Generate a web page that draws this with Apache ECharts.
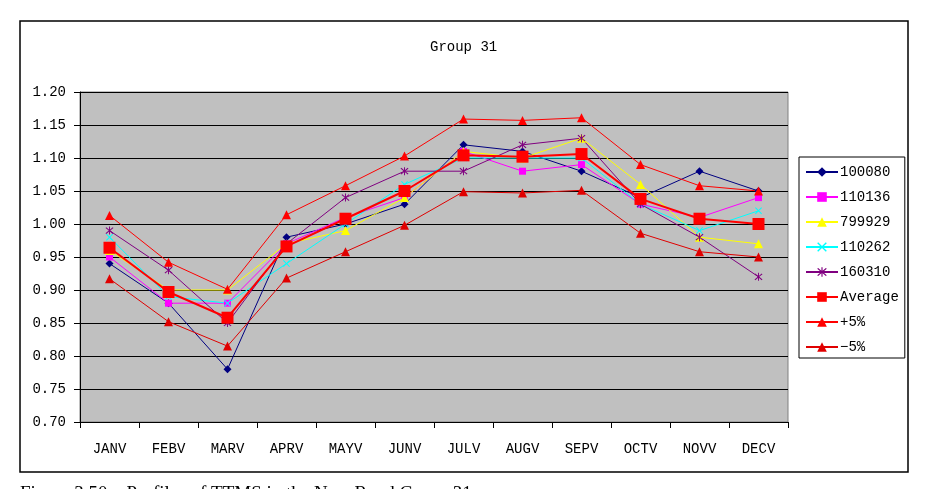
<!DOCTYPE html>
<html>
<head>
    <meta charset="utf-8">
    <title>Group 31</title>
    <script src="https://cdn.jsdelivr.net/npm/echarts@6/dist/echarts.min.js"></script>
    <style>
        html, body { margin: 0; padding: 0; background: #fff; }
    </style>
</head>

<body>
    <div id="main" style="width: 926px; height: 489px;"></div>

    <script type="text/javascript">

        // values
        const months = ['JANV', 'FEBV', 'MARV', 'APRV', 'MAYV', 'JUNV', 'JULV', 'AUGV', 'SEPV', 'OCTV', 'NOVV', 'DECV']
        const s100080 = [0.94, 0.88, 0.78, 0.98, 1.00, 1.03, 1.12, 1.11, 1.08, 1.04, 1.08, 1.05]
        const s110136 = [0.95, 0.88, 0.88, 0.97, 1.01, 1.04, 1.11, 1.08, 1.09, 1.03, 1.01, 1.04]
        const s799929 = [0.96, 0.90, 0.90, 0.97, 0.99, 1.04, 1.11, 1.10, 1.13, 1.06, 0.98, 0.97]
        const s110262 = [0.98, 0.89, 0.88, 0.94, 1.00, 1.06, 1.10, 1.10, 1.10, 1.03, 0.99, 1.02]
        const s160310 = [0.99, 0.93, 0.85, 0.97, 1.04, 1.08, 1.08, 1.12, 1.13, 1.03, 0.98, 0.92]
        const average = [0.964, 0.897, 0.858, 0.966, 1.008, 1.050, 1.104, 1.102, 1.106, 1.038, 1.008, 1.000]
        const plus5 = [1.013, 0.942, 0.901, 1.014, 1.058, 1.103, 1.159, 1.157, 1.161, 1.090, 1.058, 1.050]
        const minus5 = [0.917, 0.852, 0.815, 0.918, 0.958, 0.998, 1.049, 1.047, 1.051, 0.986, 0.958, 0.950]

        const font = 'Liberation Mono'
        const crossPath = 'path://M0,1L1,0L5,4L9,0L10,1L6,5L10,9L9,10L5,6L1,10L0,9L4,5Z'
        const starPath = 'path://M0,1L1,0L5,4L9,0L10,1L6,5L10,9L9,10L5,6L1,10L0,9L4,5Z M4.4,-1L5.6,-1L5.6,11L4.4,11Z'

        function line(name, data, color, symbol, size, width) {
            return {
                name,
                type: 'line',
                data,
                symbol,
                symbolSize: size,
                showAllSymbol: true,
                lineStyle: { color, width: width || 1 },
                itemStyle: { color },
                emphasis: { disabled: true }
            }
        }

        var myChart = echarts.init(document.getElementById('main'));

        option = {
            animation: false,
            title: {
                text: 'Group 31',
                left: 430,
                top: 40,
                padding: 0,
                textStyle: { fontFamily: font, fontSize: 14, fontWeight: 'normal', color: '#000' }
            },
            legend: {
                orient: 'vertical',
                left: 799,
                top: 157,
                padding: [8, 6, 4, 6],
                itemWidth: 32,
                itemHeight: 12,
                itemGap: 11,
                borderColor: '#000',
                borderWidth: 1,
                backgroundColor: '#fff',
                textStyle: { fontFamily: font, fontSize: 14, color: '#000', padding: [0, 0, 0, -3] },
                data: ['100080', '110136', '799929', '110262', '160310', 'Average', '+5%', '\u22125%']
            },
            grid: {
                left: 80,
                right: 138,
                top: 92,
                bottom: 67,
                show: true,
                backgroundColor: '#C0C0C0',
                borderColor: '#808080',
                borderWidth: 1
            },
            xAxis: {
                type: 'category',
                data: months,
                boundaryGap: true,
                axisLine: { lineStyle: { color: '#000', width: 1 } },
                axisTick: { show: true, interval: 0, length: 6, lineStyle: { color: '#000' } },
                axisLabel: { interval: 0, margin: 20, fontFamily: font, fontSize: 14, color: '#000' }
            },
            yAxis: {
                type: 'value',
                min: 0.70,
                max: 1.20,
                interval: 0.05,
                axisLine: { show: true, lineStyle: { color: '#000', width: 1 } },
                axisTick: { show: true, length: 6, lineStyle: { color: '#000' } },
                axisLabel: {
                    margin: 14,
                    fontFamily: font,
                    fontSize: 14,
                    color: '#000',
                    formatter: v => v.toFixed(2)
                },
                splitLine: { show: true, lineStyle: { color: '#000', width: 1 } }
            },
            series: [
                line('100080', s100080, '#000080', 'diamond', 8),
                line('110136', s110136, '#FF00FF', 'rect', 7),
                line('799929', s799929, '#FFFF00', 'triangle', 9),
                line('110262', s110262, '#00FFFF', crossPath, 7),
                line('160310', s160310, '#800080', starPath, 8),
                line('Average', average, '#FF0000', 'rect', 12, 2),
                line('+5%', plus5, '#FF0000', 'triangle', 9),
                line('\u22125%', minus5, '#E00000', 'triangle', 9)
            ],
            graphic: [
                {
                    type: 'rect',
                    shape: { x: 20, y: 21, width: 888, height: 451 },
                    style: { fill: 'none', stroke: '#000', lineWidth: 1.5 },
                    silent: true,
                    z: -1
                },
                {
                    type: 'text',
                    left: 20,
                    top: 485,
                    style: {
                        text: 'Figure 3.50    Profiles of TTMS in the New Road Group 31',
                        font: '19px "Liberation Serif"',
                        fill: '#000'
                    },
                    silent: true
                }
            ]
        };

        myChart.setOption(option);
    </script>
</body>
</html>
